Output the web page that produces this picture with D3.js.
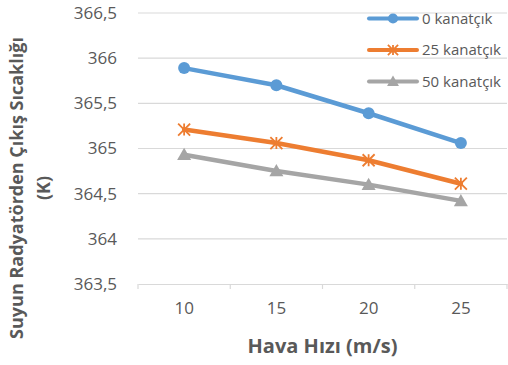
<!DOCTYPE html>
<html>
<head>
<meta charset="utf-8">
<script src="https://cdn.jsdelivr.net/npm/d3@7"></script>
<style>
  html, body { margin: 0; padding: 0; background: #fff; }
  svg text { font-family: "Open Sans", "Noto Sans", sans-serif; }
</style>
</head>
<body>
<svg id="chart" width="508" height="365"></svg>
<script>
// Air speed categories (m/s)
const categories = [10, 15, 20, 25];
// Outlet water temperature (K) for each fin count
const fins0  = [365.89, 365.70, 365.39, 365.06];
const fins25 = [365.21, 365.06, 364.87, 364.61];
const fins50 = [364.93, 364.75, 364.60, 364.42];
const seriesNames = ["0 kanatçık", "25 kanatçık", "50 kanatçık"];
const yTicks = [363.5, 364, 364.5, 365, 365.5, 366, 366.5];

const colors = ["#5B9BD5", "#ED7D31", "#A5A5A5"];
const series = [fins0, fins25, fins50];
const markers = ["circle", "asterisk", "triangle"];

const svg = d3.select("#chart");
const margin = { left: 138, right: 1, top: 13, bottom: 81 };
const W = 508, H = 365;

const x = d3.scaleBand().domain(categories).range([margin.left, W - margin.right]);
const y = d3.scaleLinear().domain([363.5, 366.5]).range([H - margin.bottom, margin.top]);

const fmt = v => d3.format("")(v).replace(".", ",");

// horizontal gridlines
svg.append("g").selectAll("line").data(yTicks.slice(1)).join("line")
  .attr("x1", margin.left).attr("x2", W - margin.right)
  .attr("y1", d => y(d)).attr("y2", d => y(d))
  .attr("stroke", "#d9d9d9").attr("stroke-width", 1.2);

// y axis labels
const yAxis = svg.append("g")
  .attr("transform", `translate(${margin.left},0)`)
  .call(d3.axisLeft(y).tickValues(yTicks).tickFormat(fmt).tickSize(0).tickPadding(21));
yAxis.select(".domain").remove();
yAxis.selectAll("text").attr("fill", "#595959").style("font-size", "17px");

// x axis
const xAxis = svg.append("g")
  .attr("transform", `translate(0,${y(363.5)})`)
  .call(d3.axisBottom(x).tickSize(0).tickPadding(18));
xAxis.select(".domain").attr("stroke", "#d9d9d9").attr("stroke-width", 1.2);
xAxis.selectAll("text").attr("fill", "#595959").style("font-size", "17px");
// category boundary ticks
const bounds = categories.map(c => x(c)).concat([x.range()[1]]);
xAxis.append("g").selectAll("line").data(bounds).join("line")
  .attr("x1", d => d).attr("x2", d => d).attr("y1", 0).attr("y2", 5)
  .attr("stroke", "#d9d9d9").attr("stroke-width", 1.2);

const cx = c => x(c) + x.bandwidth() / 2;

function drawMarker(g, type, color, px, py, k = 1) {
  if (type === "circle") {
    g.append("circle").attr("cx", px).attr("cy", py).attr("r", 6 * k).attr("fill", color);
  } else if (type === "asterisk") {
    const s = 6 * k;
    const p = `M${px - s},${py - s}L${px + s},${py + s}M${px - s},${py + s}L${px + s},${py - s}M${px},${py - s}L${px},${py + s}`;
    g.append("path").attr("d", p).attr("stroke", color).attr("stroke-width", 1.8).attr("fill", "none");
  } else {
    const s = 7 * k;
    g.append("path")
      .attr("d", `M${px},${py - s}L${px + s},${py + s * 0.75}L${px - s},${py + s * 0.75}Z`)
      .attr("fill", color);
  }
}

const line = d3.line().x((d, i) => cx(categories[i])).y(d => y(d));

series.forEach((vals, si) => {
  const g = svg.append("g");
  g.append("path").datum(vals).attr("d", line)
    .attr("fill", "none").attr("stroke", colors[si]).attr("stroke-width", 4.5)
    .attr("stroke-linejoin", "round").attr("stroke-linecap", "round");
  vals.forEach((v, i) => drawMarker(g, markers[si], colors[si], cx(categories[i]), y(v)));
});

// legend
const legend = svg.append("g");
seriesNames.forEach((name, i) => {
  const ly = 18.5 + i * 31.5;
  legend.append("line").attr("x1", 369).attr("x2", 417).attr("y1", ly).attr("y2", ly)
    .attr("stroke", colors[i]).attr("stroke-width", 4).attr("stroke-linecap", "round");
  drawMarker(legend, markers[i], colors[i], 393, ly, 0.85);
  legend.append("text").attr("x", 422).attr("y", ly).attr("dy", "0.35em")
    .attr("fill", "#595959").style("font-size", "15px").text(name);
});

// axis titles
svg.append("text")
  .attr("x", (margin.left + W - margin.right) / 2).attr("y", 353)
  .attr("text-anchor", "middle").attr("fill", "#595959")
  .style("font-size", "20px").style("font-weight", "bold")
  .text("Hava Hızı (m/s)");

const yt = svg.append("text")
  .attr("transform", "translate(0,188) rotate(-90)")
  .attr("text-anchor", "middle").attr("fill", "#595959")
  .style("font-size", "18px").style("font-weight", "bold");
yt.append("tspan").attr("x", 0).attr("y", 23).text("Suyun Radyatörden Çıkış Sıcaklığı");
yt.append("tspan").attr("x", 0).attr("y", 50).text("(K)");
</script>
</body>
</html>
